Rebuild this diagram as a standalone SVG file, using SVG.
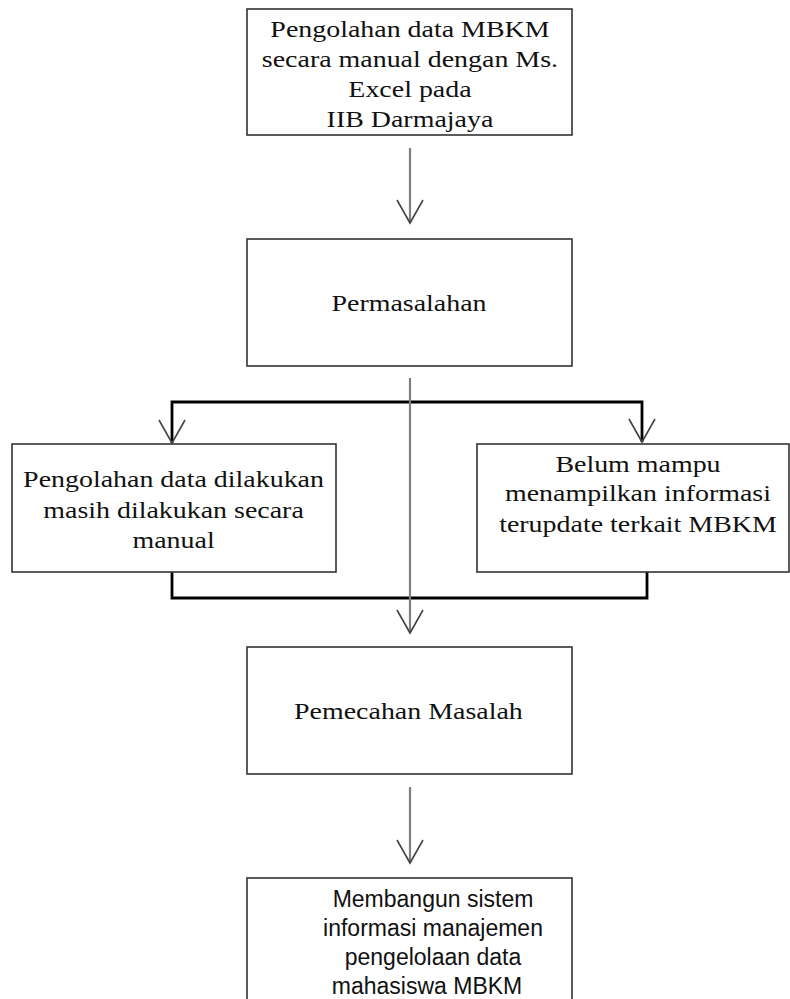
<svg xmlns="http://www.w3.org/2000/svg" width="790" height="999" viewBox="0 0 790 999">
  <style>
    .box { fill: #ffffff; stroke: #333333; stroke-width: 1.6; }
    .serif { font-family: "Liberation Serif", "Times New Roman", serif; font-size: 24px; fill: #111111; text-anchor: middle; }
    .sans { font-family: "Liberation Sans", Arial, sans-serif; font-size: 23px; fill: #111111; text-anchor: middle; }
    .flow { fill: none; stroke: #808080; stroke-width: 2.2; }
    .branch { fill: none; stroke: #000000; stroke-width: 2.8; }
  </style>
  <defs>
    <marker id="vhead" markerUnits="userSpaceOnUse" viewBox="-26 -16 30 32" markerWidth="30" markerHeight="32" refX="0" refY="0" orient="auto" overflow="visible">
      <path d="M-23,-13 L0,0 L-23,13" fill="none" stroke="#444444" stroke-width="1.6"/>
    </marker>
  </defs>
  <rect width="790" height="999" fill="#ffffff"/>

  <g id="connectors">
    <line class="flow" x1="410" y1="148" x2="410" y2="223" marker-end="url(#vhead)"/>
    <polyline class="branch" points="172,443 172,402 642,402 642,442"/>
    <path d="M159,420 L172,443 L185,420" fill="none" stroke="#444444" stroke-width="1.6"/>
    <path d="M629,419 L642,442 L655,419" fill="none" stroke="#444444" stroke-width="1.6"/>
    <polyline class="branch" points="172,572 172,598 647,598 647,572"/>
    <line class="flow" x1="410" y1="378" x2="410" y2="633" marker-end="url(#vhead)"/>
    <line class="flow" x1="410" y1="787" x2="410" y2="863" marker-end="url(#vhead)"/>
  </g>

  <g id="node-pengolahan-manual-excel">
    <rect class="box" x="247" y="9" width="325" height="126"/>
    <g transform="scale(1.164 1)">
      <text class="serif" x="352.2" y="37">Pengolahan data MBKM</text>
      <text class="serif" x="352.2" y="67">secara manual dengan Ms.</text>
      <text class="serif" x="352.2" y="97">Excel pada</text>
      <text class="serif" x="352.2" y="127">IIB Darmajaya</text>
    </g>
  </g>

  <g id="node-permasalahan">
    <rect class="box" x="247" y="239" width="325" height="127"/>
    <g transform="scale(1.164 1)">
      <text class="serif" x="351.4" y="311">Permasalahan</text>
    </g>
  </g>

  <g id="node-masalah-manual">
    <rect class="box" x="12" y="444" width="324" height="128"/>
    <g transform="scale(1.164 1)">
      <text class="serif" x="149.1" y="487">Pengolahan data dilakukan</text>
      <text class="serif" x="149.1" y="518">masih dilakukan secara</text>
      <text class="serif" x="149.1" y="548">manual</text>
    </g>
  </g>

  <g id="node-masalah-informasi">
    <rect class="box" x="477" y="444" width="312" height="128"/>
    <g transform="scale(1.164 1)">
      <text class="serif" x="548.1" y="472">Belum mampu</text>
      <text class="serif" x="548.1" y="501">menampilkan informasi</text>
      <text class="serif" x="548.1" y="532">terupdate terkait MBKM</text>
    </g>
  </g>

  <g id="node-pemecahan-masalah">
    <rect class="box" x="247" y="647" width="325" height="127"/>
    <g transform="scale(1.164 1)">
      <text class="serif" x="350.9" y="719">Pemecahan Masalah</text>
    </g>
  </g>

  <g id="node-membangun-sistem">
    <rect class="box" x="247" y="878" width="325" height="130"/>
    <text class="sans" x="433" y="907">Membangun sistem</text>
    <text class="sans" x="433" y="936">informasi manajemen</text>
    <text class="sans" x="433" y="965">pengelolaan data</text>
    <text class="sans" x="427" y="994">mahasiswa MBKM</text>
  </g>
</svg>
